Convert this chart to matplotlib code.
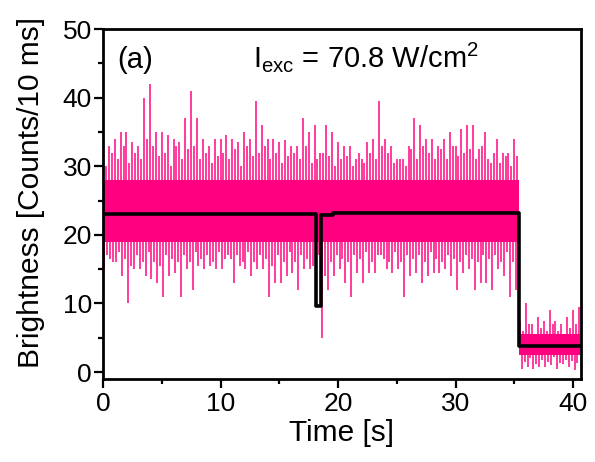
import numpy as np
import matplotlib
matplotlib.use("Agg")
import matplotlib.pyplot as plt

plt.rcParams['font.family'] = ['Liberation Sans', 'DejaVu Sans']
plt.rcParams['mathtext.fontset'] = 'custom'
plt.rcParams['mathtext.rm'] = 'Liberation Sans'
plt.rcParams['mathtext.it'] = 'Liberation Sans'

# ---- data ----
# extremes of the 10 ms trace, read every 0.5 s from 0 to 40.5 s
env_time = [i * 0.5 for i in range(82)]
env_high = [31, 33, 34, 35, 35, 33.5, 33, 40, 42, 35, 35, 34.5, 34, 33.5, 37, 41, 37, 34, 33, 34, 34,
            34.5, 34, 33.5, 35, 34, 39.5, 36, 34, 34, 33.5, 33.8, 33, 33, 37, 35, 36, 32, 36, 35, 33.5,
            33, 33, 31, 31, 33.5, 34, 39.5, 34, 33, 31, 31, 33, 37, 36, 34, 34, 33, 34, 35, 33, 35.5,
            36, 36, 32.5, 35, 30.5, 34, 32, 32, 34,
            7.5, 10, 7, 8, 7.5, 9, 7.5, 7, 8, 9, 9.5]
env_low = [15, 16.5, 16, 14, 10, 15, 15, 14, 13.5, 13, 11, 14, 14.5, 11, 15, 12, 15.5, 15, 15.5, 15, 15,
           17, 13, 15.5, 15, 14, 15, 15, 11, 13, 13, 14, 14.5, 12, 15, 15, 14, 5, 12, 14, 15,
           13, 11, 14.5, 13, 14.5, 14.5, 17, 15, 14.5, 15, 11, 14, 14.5, 13, 14, 14.5, 14.5, 15, 14, 12, 14.5,
           15, 12, 13, 13, 12, 15, 14, 11, 12,
           0.5, 0.8, 0.5, 0.8, 0.8, 1, 0.5, 1.2, 0.8, 0.3, 0.8]
# secondary extremes, read between the samples above (t + 0.25 s)
mid_high = [30, 32, 31, 33, 30.5, 32, 31, 34, 33, 31.5, 32, 30, 33, 31, 32.5, 33, 31, 32, 30.5, 31.5, 32,
            31, 32.5, 30, 33, 31.5, 32, 33, 31, 32, 30.5, 31.5, 32, 31, 33, 30.5, 31, 32, 31.5, 30, 31,
            31.5, 30, 32, 30.5, 32, 31, 33, 32, 30.5, 31, 30, 32.5, 31, 33, 32, 31, 32.5, 31, 33, 31.5, 32,
            32.5, 31, 33, 31, 32, 30.5, 31.5, 30, 31.5,
            6, 7, 5.5, 6.5, 6, 7, 6, 5.5, 6.5, 7, 6]
mid_low = [17, 16, 17.5, 16.5, 15.5, 17, 16, 17.5, 16, 15.5, 17, 16.5, 16, 17, 16, 17.5, 16.5, 17, 16, 17.5, 16.5,
           16.5, 17, 16, 17.5, 16, 17, 16.5, 15.5, 17, 16, 17.5, 16, 17, 16.5, 15.5, 17, 14, 16, 17, 16.5,
           16, 17, 16.5, 17.5, 16, 17, 16.5, 16, 17.5, 16, 17, 16.5, 17, 16, 17.5, 16.5, 16, 17, 16.5, 16, 17,
           16.5, 16, 17, 16.5, 17, 16, 17.5, 16, 17,
           1.5, 2, 1.2, 1.8, 1.5, 2.2, 1.4, 1.8, 1.6, 1.3, 1.9]
# dense core of the trace per intensity level
core_time = [0, 35.4, 35.4, 40.6]
core_high = [28.0, 28.0, 5.6, 5.6]
core_low = [19.0, 19.0, 2.5, 2.5]
core_mid = [23.5, 23.5, 4.0, 4.0]
# step fit (black)
step_time = [0, 18.15, 18.57, 19.56, 35.4, 40.6]
step_level = [23.1, 9.6, 22.95, 23.25, 3.87, 3.87]

x_ticks = [0, 10, 20, 30, 40]
y_ticks = [0, 10, 20, 30, 40, 50]

fig = plt.figure(figsize=(5.95, 4.62), dpi=100)
ax = fig.add_axes([0.1731, 0.1797, 0.976 - 0.1731, 0.9372 - 0.1797])

pink = '#FF0080'
t = np.array(env_time)
n = len(t)
tr_t = np.empty(4 * n)
tr_v = np.empty(4 * n)
tr_t[0::4] = t
tr_t[1::4] = t + 0.125
tr_t[2::4] = t + 0.25
tr_t[3::4] = t + 0.375
tr_v[0::4] = env_high
tr_v[1::4] = env_low
tr_v[2::4] = mid_high
tr_v[3::4] = mid_low
keep = tr_t <= 40.6
tr_t, tr_v = tr_t[keep], tr_v[keep]
base = np.interp(tr_t, [0, 35.39, 35.41, 40.6], core_mid)
ax.vlines(tr_t, base, tr_v, color='#FF1A8C', lw=1.2, zorder=1)
ax.fill_between(core_time, core_low, core_high, color=pink, lw=0, zorder=2)

ax.step(step_time, step_level, where='post', color='black', lw=2.6, zorder=3)

ax.set_xlim(0, 40.65)
ax.set_ylim(-1, 50)
ax.set_xticks(x_ticks)
ax.set_yticks(y_ticks)
ax.set_xticks([5, 15, 25, 35], minor=True)
ax.set_yticks([5, 15, 25, 35, 45], minor=True)
ax.tick_params(which='major', direction='out', length=6.5, width=1.6, labelsize=19, pad=1.5)
ax.tick_params(which='minor', direction='out', length=3.5, width=1.6)
ax.tick_params(axis='x', which='major', pad=3)
for s in ax.spines.values():
    s.set_linewidth(2.0)

ax.set_xlabel('Time [s]', fontsize=21.5, labelpad=2)
ax.set_ylabel('Brightness [Counts/10 ms]', fontsize=21.5)
ax.yaxis.set_label_coords(-0.121, 0.534)

ax.text(0.029, 0.89, '(a)', transform=ax.transAxes, fontsize=21, va='baseline', ha='left')
ax.text(0.314, 0.89, r'I$_{\mathrm{exc}}$ = 70.8 W/cm$^{2}$', transform=ax.transAxes,
        fontsize=21, va='baseline', ha='left')

fig.savefig('out.png', dpi=100)
